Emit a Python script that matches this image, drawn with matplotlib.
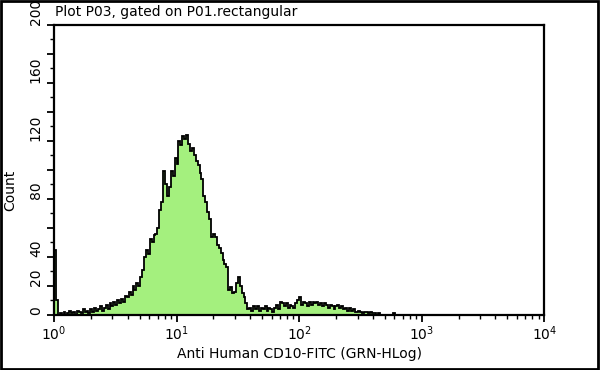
import numpy as np
import matplotlib
matplotlib.use("Agg")
from matplotlib import pyplot as plt
from matplotlib.patches import Rectangle

# histogram channel counts, 64 channels per decade starting at 10^0
counts = [45, 10, 0, 1, 0, 2, 0, 1, 3, 1,
          2, 0, 3, 2, 1, 4, 2, 3, 1, 4,
          2, 5, 3, 4, 6, 3, 5, 7, 4, 8,
          6, 9, 7, 10, 8, 11, 9, 13, 12, 16,
          14, 20, 17, 22, 20, 26, 31, 40, 45, 42,
          52, 50, 55, 56, 60, 72, 78, 99, 90, 82,
          88, 99, 96, 108, 104, 120, 117, 123, 121, 124,
          118, 113, 115, 110, 106, 103, 98, 94, 82, 78,
          71, 66, 54, 56, 54, 48, 46, 43, 38, 35,
          33, 17, 19, 15, 16, 22, 26, 20, 15, 12,
          8, 4, 5, 3, 6, 4, 6, 3, 5, 4,
          6, 3, 5, 4, 2, 5, 7, 4, 9, 8,
          6, 8, 5, 7, 6, 5, 8, 10, 12, 7,
          9, 8, 6, 9, 7, 9, 8, 9, 7, 8,
          6, 8, 7, 5, 7, 6, 4, 6, 7, 5,
          6, 4, 5, 3, 5, 3, 4, 2, 2, 3,
          2, 1, 2, 2, 1, 2, 1, 1, 0, 1,
          0, 0, 0, 0, 0, 0, 0, 1, 0, 0]
ch_per_decade = 64

yticks = [0, 20, 40, 60, 80, 100, 120, 140, 160, 180, 200]
ylabels = ["0", "20", "40", "", "80", "", "120", "", "160", "", "200"]
xticks = [1, 10, 100, 1000, 10000]
xlabels = ["10$^{0}$", "10$^{1}$", "10$^{2}$", "10$^{3}$", "10$^{4}$"]

title = "Plot P03, gated on P01.rectangular"
xlab = "Anti Human CD10-FITC (GRN-HLog)"
ylab = "Count"

fig = plt.figure(figsize=(6, 3.7), dpi=100)
ax = fig.add_axes([0.09, 0.149, 0.817, 0.784])

edges = 10 ** (np.arange(len(counts) + 1) / ch_per_decade)
ax.stairs(counts, edges, fill=True, color="#a4f07e")
ax.stairs(counts, edges, color="black", lw=1.3)

ax.set_xscale("log")
ax.set_xlim(1, 10000)
ax.set_ylim(0, 200)

ax.set_xticks(xticks)
ax.set_xticklabels(xlabels, fontsize=10)
ax.set_yticks(yticks)
ax.set_yticks(np.arange(0, 201, 10), minor=True)
ax.set_yticklabels(ylabels, fontsize=10)
for lab in ax.get_yticklabels():
    lab.set_rotation(90)
    lab.set_va("bottom")
    lab.set_ha("right")

ax.tick_params(axis="both", which="major", length=5, width=1.3, direction="out", pad=2)
ax.tick_params(axis="both", which="minor", length=3, width=1.0, direction="out")
ax.tick_params(axis="y", which="major", pad=3)
for s in ax.spines.values():
    s.set_linewidth(1.6)

ax.set_xlabel(xlab, fontsize=10, labelpad=3)
ax.set_ylabel(ylab, fontsize=10)
ax.yaxis.set_label_coords(-0.075, 0.43)

fig.text(0.092, 0.968, title, fontsize=10, ha="left", va="center")

# frame around whole picture
fig.patches.append(Rectangle((0.002, 0.003), 0.994, 0.994, transform=fig.transFigure,
                             fill=False, ec="black", lw=2))

fig.savefig("out.png", dpi=100)
